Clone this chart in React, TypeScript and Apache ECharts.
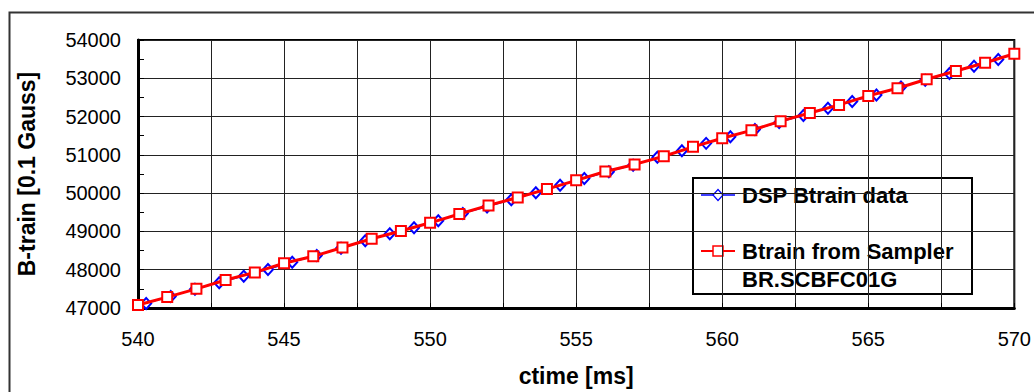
import React, { useEffect, useRef } from "react";
import * as echarts from "echarts";

const xTitle = "ctime [ms]";
const yTitle = "B-train [0.1 Gauss]";
const dspName = "DSP Btrain data";
const samplerNameLines = ["Btrain from Sampler", "BR.SCBFC01G"];

const dspTime = [
  540.28, 541.12, 541.95, 542.78, 543.62, 544.45, 545.28, 546.12, 546.95, 547.78,
  548.62, 549.45, 550.28, 551.12, 551.95, 552.78, 553.62, 554.45, 555.28, 556.12,
  556.95, 557.78, 558.62, 559.45, 560.28, 561.12, 561.95, 562.78, 563.62, 564.45,
  565.28, 566.12, 566.95, 567.78, 568.62, 569.45,
];
const dspValue = [
  47120, 47300, 47490, 47660, 47830, 48005, 48195, 48370, 48560, 48755,
  48940, 49095, 49280, 49470, 49640, 49825, 50010, 50205, 50380, 50560,
  50730, 50935, 51110, 51300, 51475, 51665, 51845, 52030, 52220, 52395,
  52565, 52775, 52950, 53125, 53315, 53490,
];

const samplerTime = [
  540, 541, 542, 543, 544, 545, 546, 547, 548, 549, 550, 551, 552, 553, 554, 555,
  556, 557, 558, 559, 560, 561, 562, 563, 564, 565, 566, 567, 568, 569, 570,
];
const samplerValue = [
  47080, 47285, 47500, 47730, 47930, 48170, 48350, 48580, 48810, 49010, 49225,
  49455, 49680, 49885, 50105, 50335, 50565, 50750, 50965, 51210, 51435, 51640,
  51880, 52095, 52305, 52540, 52740, 52975, 53190, 53405, 53640,
];

const FONT = "'Liberation Sans', Arial, sans-serif";

export default function App() {
  const ref = useRef<HTMLDivElement>(null);
  useEffect(() => {
    if (!ref.current) return;
    const chart = echarts.init(ref.current, null, { renderer: "svg" });
    const gridLine = { show: true, lineStyle: { color: "#222", width: 1 } };
    chart.setOption({
      animation: false,
      backgroundColor: "#fff",
      textStyle: { fontFamily: FONT },
      grid: {
        left: 138,
        right: 17,
        top: 40,
        bottom: 80,
        show: true,
        borderColor: "#000",
        borderWidth: 2,
        backgroundColor: "transparent",
      },
      xAxis: {
        type: "value",
        min: 540,
        max: 570,
        interval: 2.5,
        name: xTitle,
        nameLocation: "middle",
        nameGap: 56,
        nameTextStyle: { fontFamily: FONT, fontWeight: "bold", fontSize: 23, color: "#000" },
        axisLine: { show: true, onZero: false, lineStyle: { color: "#000", width: 3 } },
        axisTick: { show: true, inside: true, length: 5, lineStyle: { color: "#000", width: 1 } },
        axisLabel: {
          fontFamily: FONT,
          fontSize: 20,
          color: "#000",
          margin: 21,
          formatter: (v: number) => (v % 5 === 0 ? String(v) : ""),
        },
        splitLine: gridLine,
      },
      yAxis: {
        type: "value",
        min: 47000,
        max: 54000,
        interval: 1000,
        name: yTitle,
        nameLocation: "middle",
        nameGap: 100,
        nameTextStyle: { fontFamily: FONT, fontWeight: "bold", fontSize: 23, color: "#000" },
        axisLine: { show: true, lineStyle: { color: "#000", width: 3 } },
        axisTick: { show: true, inside: true, length: 6, lineStyle: { color: "#000", width: 1 } },
        minorTick: { show: true, splitNumber: 2, length: 6, lineStyle: { color: "#000", width: 1 } },
        axisLabel: {
          fontFamily: FONT,
          fontSize: 20,
          color: "#000",
          margin: 17,
          formatter: (v: number) => String(v),
        },
        splitLine: gridLine,
      },
      series: [
        {
          name: dspName,
          type: "line",
          data: dspTime.map((t, i) => [t, dspValue[i]]),
          symbol: "emptyDiamond",
          symbolSize: [10, 11],
          itemStyle: { color: "#0000ff", borderWidth: 1.2 },
          lineStyle: { color: "#0000ff", width: 1 },
          z: 2,
        },
        {
          name: samplerNameLines.join(" "),
          type: "line",
          data: samplerTime.map((t, i) => [t, samplerValue[i]]),
          symbol: "emptyRect",
          symbolSize: 10,
          itemStyle: { color: "#ff0000", borderWidth: 1.5 },
          lineStyle: { color: "#ff0000", width: 3 },
          z: 3,
        },
      ],
      graphic: [
        {
          type: "rect",
          left: 7,
          top: 10,
          shape: { x: 0, y: 0, width: 1060, height: 420 },
          style: { fill: "none", stroke: "#333", lineWidth: 2 },
          silent: true,
          z: -10,
        },
        {
          type: "group",
          left: 692,
          top: 177,
          z: 100,
          children: [
            {
              type: "rect",
              shape: { x: 0, y: 0, width: 279, height: 116 },
              style: { fill: "#fff", stroke: "#000", lineWidth: 2 },
            },
            {
              type: "line",
              shape: { x1: 8, y1: 17, x2: 42, y2: 17 },
              style: { stroke: "#0000ff", lineWidth: 1.5 },
            },
            {
              type: "polygon",
              shape: { points: [[25, 11.5], [30, 17], [25, 22.5], [20, 17]] },
              style: { fill: "#fff", stroke: "#0000ff", lineWidth: 1.2 },
            },
            {
              type: "text",
              x: 49,
              y: 17,
              style: {
                text: dspName,
                fontFamily: FONT,
                fontWeight: "bold",
                fontSize: 22,
                fill: "#000",
                verticalAlign: "middle",
              },
            },
            {
              type: "line",
              shape: { x1: 8, y1: 73, x2: 42, y2: 73 },
              style: { stroke: "#ff0000", lineWidth: 2 },
            },
            {
              type: "rect",
              shape: { x: 20, y: 68, width: 10, height: 10 },
              style: { fill: "#fff", stroke: "#ff0000", lineWidth: 1.5 },
            },
            {
              type: "text",
              x: 49,
              y: 73,
              style: {
                text: samplerNameLines[0],
                fontFamily: FONT,
                fontWeight: "bold",
                fontSize: 22,
                fill: "#000",
                verticalAlign: "middle",
              },
            },
            {
              type: "text",
              x: 49,
              y: 101,
              style: {
                text: samplerNameLines[1],
                fontFamily: FONT,
                fontWeight: "bold",
                fontSize: 22,
                fill: "#000",
                verticalAlign: "middle",
              },
            },
          ],
        },
      ],
    });
    return () => chart.dispose();
  }, []);
  return (
    <div
      ref={ref}
      style={{ position: "fixed", left: 0, top: 0, width: 1034, height: 392, background: "#fff" }}
    />
  );
}
